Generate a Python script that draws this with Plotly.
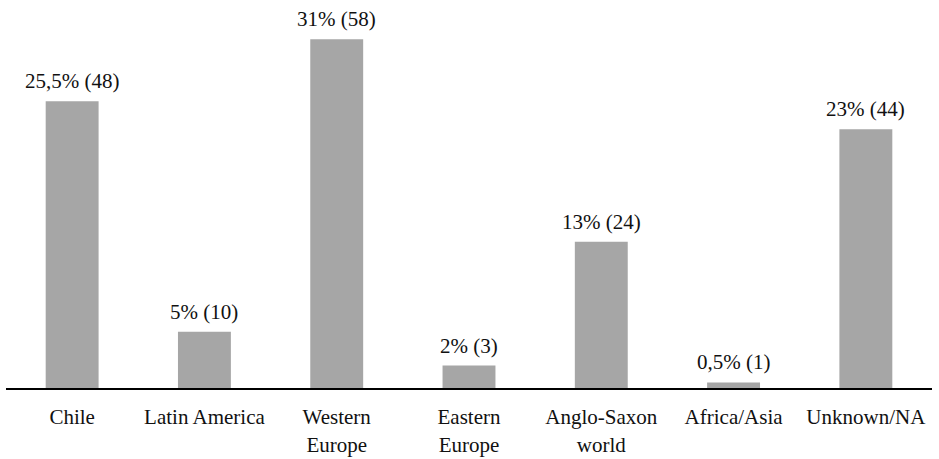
import plotly.graph_objects as go

categories = ["Chile", "Latin America", "Western<br>Europe", "Eastern<br>Europe",
              "Anglo-Saxon<br>world", "Africa/Asia", "Unknown/NA"]
percent = [25.5, 5, 31, 2, 13, 0.5, 23]
counts = [48, 10, 58, 3, 24, 1, 44]
pct_labels = ["25,5%", "5%", "31%", "2%", "13%", "0,5%", "23%"]

labels = [f"{p} ({c})" for p, c in zip(pct_labels, counts)]

FONT = "'Liberation Serif', 'Times New Roman', 'DejaVu Serif', serif"

fig = go.Figure(go.Bar(
    x=categories, y=percent,
    marker=dict(color="#a6a6a6", line=dict(width=0)),
    width=0.4, hoverinfo="skip",
))

for cat, val, lab in zip(categories, percent, labels):
    fig.add_annotation(x=cat, y=val, text=lab, showarrow=False,
                       xanchor="center", yanchor="bottom", yshift=6,
                       font=dict(family=FONT, size=21, color="#111111"))

fig.update_layout(
    width=939, height=459,
    margin=dict(l=6, r=7, t=18, b=71),
    paper_bgcolor="white", plot_bgcolor="white",
    showlegend=False,
    font=dict(family=FONT, size=21, color="#111111"),
)
fig.update_xaxes(showline=True, linecolor="black", linewidth=2, ticks="",
                 tickfont=dict(family=FONT, size=21, color="#111111"),
                 ticklabelstandoff=9, automargin=False, showgrid=False)
fig.update_yaxes(visible=False, range=[0, 32.9], showgrid=False, zeroline=False)

fig.write_html("out.html")
